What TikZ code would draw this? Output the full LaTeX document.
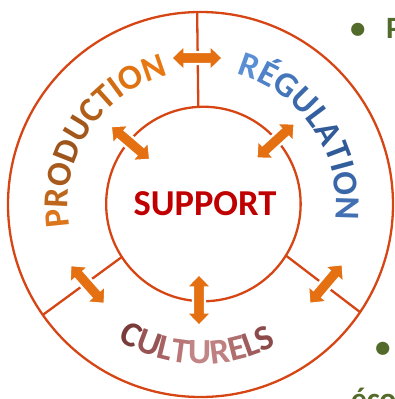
\documentclass[tikz,border=0pt]{standalone}
\usepackage{fontspec}
\newfontfamily\carl{Carlito}
\usetikzlibrary{decorations.text}
\definecolor{ringline}{RGB}{214,70,20}
\definecolor{arrowfill}{RGB}{228,112,18}
\definecolor{supred}{RGB}{192,0,0}
\definecolor{slidegreen}{RGB}{83,107,42}
% PRODUCTION
\definecolor{pa}{HTML}{DB761C}
\definecolor{pb}{HTML}{BE661C}
\definecolor{pc}{HTML}{A85A1C}
\definecolor{pd}{HTML}{9E551C}
\definecolor{pe}{HTML}{A2571B}
\definecolor{pf}{HTML}{B05E18}
\definecolor{pg}{HTML}{C26716}
\definecolor{ph}{HTML}{D26D13}
\definecolor{pi}{HTML}{DF7311}
\definecolor{pj}{HTML}{E87811}
% REGULATION
\definecolor{ra}{HTML}{5A8ED5}
\definecolor{rb}{HTML}{4F82C8}
\definecolor{rc}{HTML}{4475BA}
\definecolor{rd}{HTML}{3B69AC}
\definecolor{re}{HTML}{345F9F}
\definecolor{rf}{HTML}{305A98}
\definecolor{rg}{HTML}{305A98}
\definecolor{rh}{HTML}{335E9E}
\definecolor{ri}{HTML}{3A67A8}
\definecolor{rj}{HTML}{4270B3}
% CULTURELS
\definecolor{ca}{HTML}{7A3B3B}
\definecolor{cb}{HTML}{985454}
\definecolor{cc}{HTML}{A86464}
\definecolor{cd}{HTML}{B87676}
\definecolor{ce}{HTML}{C28585}
\definecolor{cf}{HTML}{BE8080}
\definecolor{cg}{HTML}{AF6F6F}
\definecolor{ch}{HTML}{9E5C5C}
\definecolor{ci}{HTML}{8C4A4A}
\newcommand\ringfnt{\carl\bfseries\fontsize{35}{35}\selectfont}
\newcommand\culfnt{\carl\bfseries\fontsize{35.5}{35.5}\selectfont}
\begin{document}
\begin{tikzpicture}[x=1pt,y=-1pt,
  ring/.style={circle, draw=ringline, line width=2.3pt, inner sep=0pt, outer sep=0pt},
  divider/.style={draw=ringline, line width=2.3pt},
  darrow/.pic={\path[fill=arrowfill, draw=white, line width=2.4pt, line join=miter]
     (-26,0) -- (-12.5,-13) -- (-12.5,-6) -- (12.5,-6) -- (12.5,-13) -- (26,0)
     -- (12.5,13) -- (12.5,6) -- (-12.5,6) -- (-12.5,13) -- cycle;},
  slidetext/.style={font=\carl\bfseries\fontsize{31}{31}\selectfont, text=slidegreen, inner sep=0pt, anchor=base west}
]
\useasboundingbox (0,0) rectangle (395,399);
\clip (0,0) rectangle (395,399);
% circles
\node[ring, minimum size=385pt] (outer) at (200.5,204.5) {};
\node[ring, minimum size=194.5pt] (inner) at (203.4,204) {};
% dividers
\draw[divider] (inner.93.8) -- (outer.91);
\draw[divider] (inner.213.4) -- (outer.215.9);
\draw[divider] (inner.-32.4) -- (outer.-34.4);
% arrows
\pic (atop) at (197,58) {darrow};
\pic[rotate=-40.6] (aul) at (130.5,143) {darrow};
\pic[rotate=42.4] (aur) at (275.5,141) {darrow};
\pic[rotate=-48.5] (abl) at (87.5,284.5) {darrow};
\pic[rotate=90] (abot) at (199,300) {darrow};
\pic[rotate=49.9] (abr) at (326,284) {darrow};
% centre
\node[font=\carl\bfseries\fontsize{36.5}{36.5}\selectfont, text=supred, inner sep=0pt] (support) at (205,203.5) {SUPPORT};
% ring texts
\path[decorate, decoration={text along path, text align=center,
  text={|\ringfnt\color{pa}|P|\ringfnt\color{pb}|R|\ringfnt\color{pc}|O|\ringfnt\color{pd}|D|\ringfnt\color{pe}|U|\ringfnt\color{pf}|C|\ringfnt\color{pg}|T|\ringfnt\color{ph}|I|\ringfnt\color{pi}|O|\ringfnt\color{pj}|N}}]
  (201,204) ++(207:133pt) arc[start angle=207, end angle=87, radius=133pt];
\path[decorate, decoration={text along path, text align=center,
  text={|\ringfnt\color{ra}|R|\ringfnt\color{rb}|É|\ringfnt\color{rc}|G|\ringfnt\color{rd}|U|\ringfnt\color{re}|L|\ringfnt\color{rf}|A|\ringfnt\color{rg}|T|\ringfnt\color{rh}|I|\ringfnt\color{ri}|O|\ringfnt\color{rj}|N}}]
  (201,204) ++(94:135pt) arc[start angle=94, end angle=-26, radius=135pt];
\path[decorate, decoration={text along path, text align=center,
  text={|\culfnt\color{ca}|C|\culfnt\color{cb}|U|\culfnt\color{cc}|L|\culfnt\color{cd}|T|\culfnt\color{ce}|U|\culfnt\color{cf}|R|\culfnt\color{cg}|E|\culfnt\color{ch}|L|\culfnt\color{ci}|S}}]
  (201,204) ++(208.5:160pt) arc[start angle=208.5, end angle=328.5, radius=160pt];
% slide text cut by the frame
\node[slidetext] (bul1) at (350,38) {•};
\node[slidetext] (ptext) at (386,38) {P};
\node[slidetext] (bul2) at (375,357) {•};
\node[slidetext] (eco) at (351,409) {éco};
\end{tikzpicture}
\end{document}
